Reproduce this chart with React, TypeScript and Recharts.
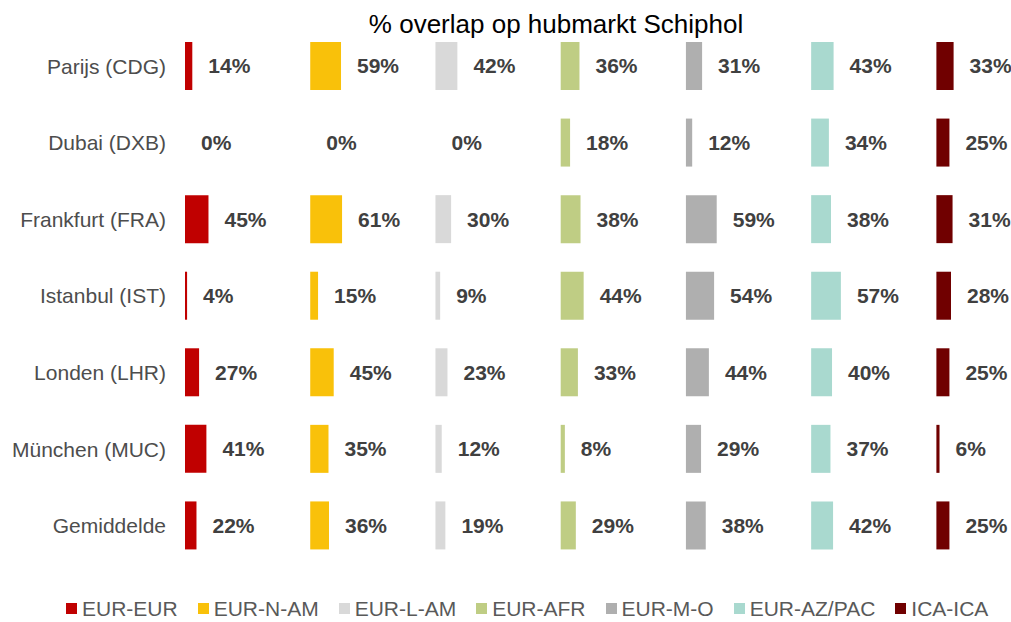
import React from 'react';
import { BarChart, Bar, XAxis, YAxis, LabelList } from 'recharts';

// airports (rows)
const categories = [
    'Parijs (CDG)',
    'Dubai (DXB)',
    'Frankfurt (FRA)',
    'Istanbul (IST)',
    'Londen (LHR)',
    'München (MUC)',
    'Gemiddelde',
];

// market names (panels)
const seriesNames = ['EUR-EUR', 'EUR-N-AM', 'EUR-L-AM', 'EUR-AFR', 'EUR-M-O', 'EUR-AZ/PAC', 'ICA-ICA'];
const seriesColors = ['#C00000', '#F9C10A', '#D9D9D9', '#BFCD84', '#AFAFAF', '#A9D9CF', '#700000'];

// overlap in %
const eurEur = [14, 0, 45, 4, 27, 41, 22];
const eurNAm = [59, 0, 61, 15, 45, 35, 36];
const eurLAm = [42, 0, 30, 9, 23, 12, 19];
const eurAfr = [36, 18, 38, 44, 33, 8, 29];
const eurMO = [31, 12, 59, 54, 44, 29, 38];
const eurAzPac = [43, 34, 38, 57, 40, 37, 42];
const icaIca = [33, 25, 31, 28, 25, 6, 25];

const seriesValues = [eurEur, eurNAm, eurLAm, eurAfr, eurMO, eurAzPac, icaIca];

// every panel gets the same width, the rest is an invisible spacer
const PANEL = 240;

const data = categories.map((name, i) => {
    const row: Record<string, string | number> = { name };
    seriesValues.forEach((vals, s) => {
        row[`s${s}`] = vals[i];
        row[`p${s}`] = PANEL - vals[i];
    });
    return row;
});

const FONT = '"Liberation Sans", Arial, sans-serif';

const App: React.FC = () => {
    return (
        <div style={{ position: 'absolute', left: 0, top: 0, width: 1011, height: 622, background: '#fff', fontFamily: FONT, overflow: 'hidden' }}>
            <div
                style={{
                    position: 'absolute',
                    top: 11,
                    left: 556,
                    transform: 'translateX(-50%)',
                    fontSize: 26,
                    lineHeight: '26px',
                    whiteSpace: 'nowrap',
                    color: '#000',
                }}
            >
                % overlap op hubmarkt Schiphol
            </div>
            <BarChart
                width={1011}
                height={622}
                data={data}
                layout="vertical"
                margin={{ top: 28, right: 12, bottom: 58, left: 0 }}
            >
                <XAxis type="number" domain={[0, 1560]} allowDataOverflow hide />
                <YAxis
                    type="category"
                    dataKey="name"
                    width={185}
                    axisLine={false}
                    tickLine={false}
                    tickSize={0}
                    tickMargin={19}
                    tick={{ fontSize: 21, fill: '#4d4d4d', fontFamily: FONT }}
                />
                {seriesNames.map((n, s) => [
                    <Bar
                        key={`s${s}`}
                        dataKey={`s${s}`}
                        stackId="a"
                        fill={seriesColors[s]}
                        barSize={48}
                        isAnimationActive={false}
                    />,
                    // label sits at the start of the spacer, so 0% still shows
                    <Bar
                        key={`p${s}`}
                        dataKey={`p${s}`}
                        stackId="a"
                        fill="transparent"
                        barSize={48}
                        isAnimationActive={false}
                    >
                        <LabelList
                            dataKey={`s${s}`}
                            position="insideLeft"
                            offset={16}
                            formatter={(v: any) => `${v}%`}
                            fill="#404040"
                            fontSize={21}
                            fontWeight="bold"
                            fontFamily={FONT}
                        />
                    </Bar>,
                ])}
            </BarChart>
            <div
                style={{
                    position: 'absolute',
                    top: 598,
                    left: 66,
                    display: 'flex',
                    fontSize: 21,
                    lineHeight: '21px',
                    color: '#595959',
                    whiteSpace: 'nowrap',
                }}
            >
                {seriesNames.map((n, i) => (
                    <div key={n} style={{ display: 'flex', alignItems: 'center', marginRight: 20 }}>
                        <span style={{ width: 11, height: 11, background: seriesColors[i], marginRight: 5, display: 'inline-block' }} />
                        <span>{n}</span>
                    </div>
                ))}
            </div>
        </div>
    );
};

export default App;
